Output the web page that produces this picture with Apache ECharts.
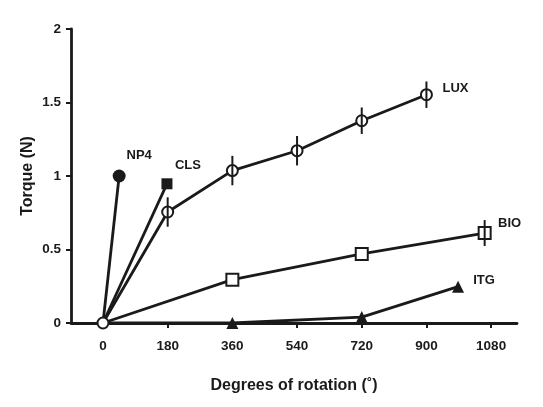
<!DOCTYPE html>
<html>
<head>
<meta charset="utf-8">
<script src="https://cdn.jsdelivr.net/npm/echarts@6/dist/echarts.min.js"></script>
<style>html,body{margin:0;padding:0;background:#fff}#c{width:543px;height:407px}</style>
</head>
<body>
<div id="c"></div>
<script>
// Data
const xTicks = [0, 180, 360, 540, 720, 900, 1080];
const np4X = [0, 45];
const np4Y = [0, 1.0];
const clsX = [0, 178];
const clsY = [0, 0.947];
const luxX = [0, 180, 360, 540, 720, 900];
const luxY = [0, 0.755, 1.037, 1.172, 1.376, 1.553];
const luxErr = [0, 0.1, 0.1, 0.1, 0.09, 0.09];
const bioX = [0, 360, 720, 1062];
const bioY = [0, 0.295, 0.47, 0.612];
const bioErr = [0, 0, 0, 0.088];
const itgX = [0, 360, 720, 988];
const itgY = [0, 0.0, 0.04, 0.247];

const FONT = 'Liberation Sans, Arial, sans-serif';
const INK = '#1a1a1a';

function pts(xs, ys, name, off, hideOrigin) {
  return xs.map((x, i) => {
    const d = { value: [x, ys[i]] };
    if (i === 0 && hideOrigin) d.symbol = 'none';
    if (i === xs.length - 1) {
      d.label = {
        show: true, formatter: name, position: 'inside', offset: off,
        color: INK, fontFamily: FONT, fontWeight: 'bold', fontSize: 13
      };
    }
    return d;
  });
}

function lineSeries(name, data, sym, size, fill, z) {
  return {
    name, type: 'line', data, symbol: sym, symbolSize: size, z: z,
    lineStyle: { color: INK, width: 2.8 },
    itemStyle: { color: fill, borderColor: INK, borderWidth: fill === '#fff' ? 2 : 0 },
    emphasis: { disabled: true }, animation: false
  };
}

function errSeries(xs, ys, es) {
  return {
    type: 'custom', z: 10, animation: false, silent: true,
    data: xs.map((x, i) => [x, ys[i], es[i]]).filter(d => d[2] > 0),
    renderItem: function (params, api) {
      const x = api.value(0), y = api.value(1), e = api.value(2);
      const p1 = api.coord([x, y - e]);
      const p2 = api.coord([x, y + e]);
      return { type: 'line', shape: { x1: p1[0], y1: p1[1], x2: p2[0], y2: p2[1] },
               style: { stroke: INK, lineWidth: 2 } };
    }
  };
}

const chart = echarts.init(document.getElementById('c'), null, { renderer: 'canvas' });
chart.setOption({
  backgroundColor: '#fff',
  animation: false,
  grid: { left: 71, right: 26, top: 29, bottom: 84 },
  xAxis: {
    type: 'value', min: -89, max: 1152,
    name: 'Degrees of rotation (˚)', nameLocation: 'middle', nameGap: 55,
    nameTextStyle: { color: INK, fontFamily: FONT, fontWeight: 'bold', fontSize: 16 },
    axisLine: { show: true, onZero: false, lineStyle: { color: INK, width: 2.8 } },
    axisTick: { show: true, length: 5, inside: false, lineStyle: { color: INK, width: 2 }, customValues: xTicks },
    axisLabel: { color: INK, fontFamily: FONT, fontWeight: 'bold', fontSize: 13.5, margin: 16,
                 customValues: xTicks, formatter: v => String(v) },
    splitLine: { show: false }
  },
  yAxis: {
    type: 'value', min: 0, max: 2, interval: 0.5,
    name: 'Torque (N)', nameLocation: 'middle', nameGap: 35, nameRotate: 90, nameMoveOverlap: false,
    nameTextStyle: { color: INK, fontFamily: FONT, fontWeight: 'bold', fontSize: 16 },
    axisLine: { show: true, onZero: false, lineStyle: { color: INK, width: 2.8 } },
    axisTick: { show: true, length: 5, inside: false, lineStyle: { color: INK, width: 2 } },
    axisLabel: { color: INK, fontFamily: FONT, fontWeight: 'bold', fontSize: 13.5, margin: 10,
                 formatter: v => String(v) },
    splitLine: { show: false }
  },
  series: [
    lineSeries('ITG', pts(itgX, itgY, 'ITG', [26, -6], true), 'triangle', 12, INK, 2),
    lineSeries('BIO', pts(bioX, bioY, 'BIO', [25, -10], true), 'rect', 12, '#fff', 3),
    lineSeries('CLS', pts(clsX, clsY, 'CLS', [21, -18], true), 'rect', 11, INK, 4),
    lineSeries('NP4', pts(np4X, np4Y, 'NP4', [20, -21], true), 'circle', 13, INK, 5),
    lineSeries('LUX', pts(luxX, luxY, 'LUX', [29, -6], false), 'circle', 11, '#fff', 6),
    errSeries(luxX, luxY, luxErr),
    errSeries(bioX, bioY, bioErr)
  ]
});
</script>
</body>
</html>
